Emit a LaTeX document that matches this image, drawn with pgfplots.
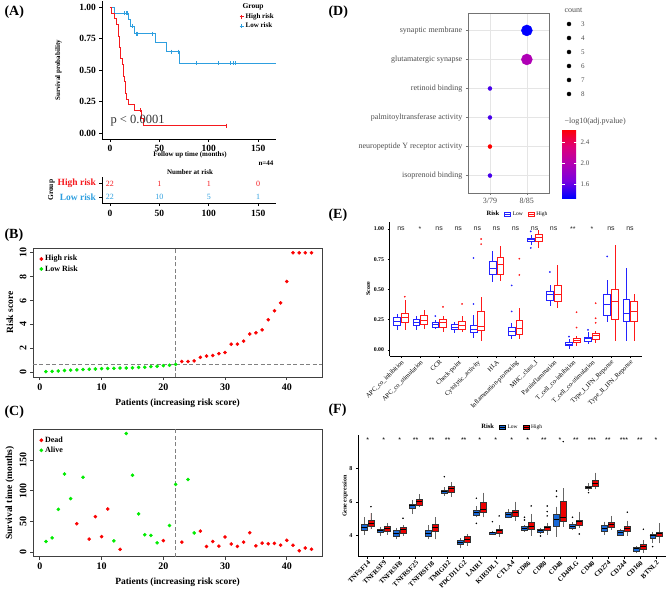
\documentclass[border=0pt]{standalone}
\usepackage{fontspec}
\setmainfont{Liberation Serif}
\setsansfont{Liberation Sans}
\usepackage{pgfplots}
\pgfplotsset{compat=1.18}
\usepgfplotslibrary{statistics}

\definecolor{kmred}{RGB}{245,25,30}
\definecolor{kmblue}{RGB}{46,159,223}
\definecolor{ptgreen}{RGB}{0,235,0}
\definecolor{ptred}{RGB}{250,0,0}
\definecolor{eblue}{RGB}{35,35,255}
\definecolor{ered}{RGB}{255,25,25}
\definecolor{fblue}{RGB}{25,105,215}
\definecolor{fred}{RGB}{235,0,0}
\definecolor{txtgray}{RGB}{77,77,77}
\definecolor{dashgray}{RGB}{128,128,128}

\newcommand{\fs}[1]{\fontsize{#1}{#1}\selectfont}
% one prepared box: style, position, median, q1, q3, lower whisker, upper whisker, outliers
\newcommand{\bx}[8]{\addplot[#1,boxplot prepared={draw position=#2,median=#3,lower quartile=#4,upper quartile=#5,lower whisker=#6,upper whisker=#7}] coordinates {#8};}

\pgfplotsset{
  every axis/.append style={scale only axis, /pgf/number format/assume math mode=true},
  dotlegend/.style={legend image code/.code={\draw[##1] plot coordinates {(2.5pt,0pt)};}},
  boxlegend/.style={legend image code/.code={\draw[##1] (0pt,-2.2pt) rectangle (6pt,2.2pt); \draw[##1,fill=none] (0pt,0pt) -- (6pt,0pt);}},
  boxE/.style={forget plot, line width=0.55pt, fill=white, mark=*, mark size=0.55pt,
    boxplot/draw direction=y,
    boxplot/box extend=0.36, boxplot/whisker extend=0,
    boxplot/every median/.style={line width=1.1pt}},
  eL/.style={boxE, draw=eblue, mark options={draw=eblue, fill=eblue}},
  eH/.style={boxE, draw=ered, mark options={draw=ered, fill=ered}},
  boxF/.style={forget plot, draw=black!80, line width=0.45pt, mark=*, mark size=0.5pt,
    mark options={draw=black, fill=black},
    boxplot/draw direction=y,
    boxplot/box extend=0.36, boxplot/whisker extend=0,
    boxplot/every median/.style={draw=black, line width=1pt},
    boxplot/every whisker/.style={draw=black!60}},
  fL/.style={boxF, fill=fblue},
  fH/.style={boxF, fill=fred},
}

\begin{document}
\begin{tikzpicture}
\useasboundingbox (0,0) rectangle (667pt,595pt);

% panel letters
\node[anchor=west, font=\fs{14}\bfseries] at (1pt,583pt) {(A)};
\node[anchor=west, font=\fs{14}\bfseries] at (1pt,360pt) {(B)};
\node[anchor=west, font=\fs{14}\bfseries] at (1pt,183pt) {(C)};
\node[anchor=west, font=\fs{14}\bfseries] at (325pt,583pt) {(D)};
\node[anchor=west, font=\fs{14}\bfseries] at (325pt,380pt) {(E)};
\node[anchor=west, font=\fs{14}\bfseries] at (325pt,185pt) {(F)};

% ---------------- (A) Kaplan-Meier ----------------
\begin{axis}[at={(102pt,455.4pt)}, anchor=south west, width=174pt, height=138.6pt,
  xmin=-8, xmax=168, ymin=-0.05, ymax=1.05, clip=false,
  axis x line*=bottom, axis y line*=left,
  axis line style={line width=0.7pt,-},
  tick align=outside, major tick length=2.5pt, tick style={black, line width=0.6pt},
  xtick={0,50,100,150}, ytick={0,0.25,0.5,0.75,1},
  tick label style={font=\fs{9.5}\bfseries},
  yticklabel style={/pgf/number format/fixed, /pgf/number format/fixed zerofill, /pgf/number format/precision=2},
  ylabel={Survival probability},
  ylabel style={font=\fs{7}\bfseries, at={(axis description cs:-0.25,0.5)}, anchor=center},
  xlabel={Follow up time (months)},
  xlabel style={font=\fs{7}\bfseries, at={(axis description cs:0.506,-0.111)}, anchor=center},
  legend style={at={(axis description cs:0.79,0.925)}, anchor=north west, draw=none, fill=none,
    font=\fs{7}\bfseries, inner sep=0pt, row sep=-1pt},
  legend cell align=left]
\addlegendimage{dotlegend, kmred, mark=+, mark size=2pt, line width=0.6pt}
\addlegendentry{High risk}
\addlegendimage{dotlegend, kmblue, mark=+, mark size=2pt, line width=0.6pt}
\addlegendentry{Low risk}
\addplot[kmblue, line width=0.8pt, const plot, forget plot] coordinates {
  (0,1) (4.3,0.9545) (18.5,0.9015) (21,0.8485) (25,0.7919) (46,0.7199)
  (57.5,0.6479) (70,0.5554) (168,0.5554)};
\addplot[kmred, line width=0.8pt, const plot, forget plot] coordinates {
  (0,1) (2,0.9545) (4.5,0.9091) (6.5,0.8636) (9,0.7727) (9.5,0.7273) (10,0.6818)
  (11,0.5909) (13,0.5455) (13.5,0.5) (14,0.4545) (14.5,0.4091) (16,0.3182)
  (17,0.2727) (19,0.2273) (24.5,0.1818) (31.5,0.1212) (34,0.0606) (118,0.0606)};
\addplot[kmblue, only marks, mark=|, mark size=2pt, line width=0.5pt, forget plot] coordinates {
  (15,0.9545) (17,0.9545) (18,0.9545) (23,0.8485) (27,0.7919) (28,0.7919) (43,0.7919)
  (62,0.6479) (69.5,0.6479) (87,0.5554) (110,0.5554) (121.6,0.5554) (125,0.5554) (127,0.5554)};
\addplot[kmred, only marks, mark=|, mark size=2pt, line width=0.5pt, forget plot] coordinates {
  (31,0.1818) (118,0.0606)};
\node[anchor=west, inner sep=0pt, font=\fs{12.5}, text=black!80] at (axis cs:0.5,0.098) {p < 0.0001};
\end{axis}
\node[anchor=west, font=\fs{7.5}\bfseries] at (239pt,588pt) {Group};
\node[anchor=east, font=\fs{7}\bfseries] at (277pt,432pt) {n=44};
\node[font=\fs{7}\bfseries] at (190pt,423pt) {Number at risk};

% risk table
\begin{axis}[at={(102pt,391.25pt)}, anchor=south west, width=174pt, height=27pt,
  xmin=-8, xmax=168, ymin=0.5, ymax=2.5, clip=false,
  axis x line*=bottom, axis y line*=left, axis line style={line width=0.7pt,-},
  tick align=outside, major tick length=2.5pt, tick style={black, line width=0.6pt},
  xtick={0,50,100,150}, ytick={1,2},
  yticklabels={\textcolor{kmblue}{Low risk},\textcolor{kmred}{High risk}},
  tick label style={font=\fs{9.5}\bfseries},
  ylabel={Group},
  ylabel style={font=\fs{7.5}\bfseries, at={(axis description cs:-0.29,0.5)}, anchor=center}]
\node[kmred, font=\fs{8}] at (axis cs:0,2) {22};
\node[kmred, font=\fs{8}] at (axis cs:50,2) {1};
\node[kmred, font=\fs{8}] at (axis cs:100,2) {1};
\node[kmred, font=\fs{8}] at (axis cs:150,2) {0};
\node[kmblue, font=\fs{8}] at (axis cs:0,1) {22};
\node[kmblue, font=\fs{8}] at (axis cs:50,1) {10};
\node[kmblue, font=\fs{8}] at (axis cs:100,1) {5};
\node[kmblue, font=\fs{8}] at (axis cs:150,1) {1};
\end{axis}

% ---------------- (B) risk score ----------------
\begin{axis}[at={(33pt,218pt)}, anchor=south west, width=289pt, height=129pt,
  xmin=-1.1, xmax=45.7, ymin=-0.4, ymax=10.4,
  axis line style={black!75, line width=0.8pt},
  xtick={0,10,20,30,40}, ytick={0,2,4,6,8,10}, xtick pos=bottom, ytick pos=left,
  tick align=outside, major tick length=3pt, tick style={black!75, line width=0.7pt},
  tick label style={font=\fs{10}\bfseries},
  yticklabel style={rotate=90, anchor=south},
  ylabel={Risk score},
  ylabel style={font=\fs{9.5}\bfseries, at={(axis description cs:-0.08,0.5)}, anchor=center},
  xlabel={Patients (increasing risk score)},
  xlabel style={font=\fs{9.5}\bfseries, at={(axis description cs:0.5,-0.2)}, anchor=center},
  legend style={at={(axis description cs:0.012,0.975)}, anchor=north west, draw=none, fill=none,
    font=\fs{8}\bfseries, row sep=-1pt},
  legend cell align=left]
\addlegendimage{dotlegend, ptred, mark=*, mark size=1.7pt}
\addlegendentry{High risk}
\addlegendimage{dotlegend, ptgreen, mark=*, mark size=1.7pt}
\addlegendentry{Low Risk}
\addplot[dashgray, dash pattern=on 4pt off 2.5pt, line width=0.9pt, forget plot] coordinates {(22,-0.4) (22,10.4)};
\addplot[dashgray, dash pattern=on 4pt off 2.5pt, line width=0.9pt, forget plot] coordinates {(-1.1,0.69) (45.7,0.69)};
\addplot[only marks, mark=*, mark size=1.6pt, ptgreen, forget plot] coordinates {
  (1,0.05) (2,0.07) (3,0.10) (4,0.15) (5,0.17) (6,0.20) (7,0.22) (8,0.25) (9,0.27)
  (10,0.30) (11,0.32) (12,0.33) (13,0.35) (14,0.36) (15,0.37) (16,0.40) (17,0.42)
  (18,0.47) (19,0.50) (20,0.55) (21,0.58) (22,0.65)};
\addplot[only marks, mark=*, mark size=1.6pt, ptred, forget plot] coordinates {
  (23,0.90) (24,0.90) (25,0.95) (26,1.25) (27,1.35) (28,1.40) (29,1.55) (30,1.65)
  (31,2.35) (32,2.35) (33,2.60) (34,3.20) (35,3.30) (36,3.55) (37,4.40) (38,5.15)
  (39,5.80) (40,7.60) (41,10) (42,10) (43,10) (44,10)};
\end{axis}

% ---------------- (C) survival status ----------------
\begin{axis}[at={(33pt,38.3pt)}, anchor=south west, width=289pt, height=127.3pt,
  xmin=-1.1, xmax=45.7, ymin=-7.7, ymax=199.7,
  axis line style={black!75, line width=0.8pt},
  xtick={0,10,20,30,40}, ytick={0,50,100,150}, xtick pos=bottom, ytick pos=left,
  tick align=outside, major tick length=3pt, tick style={black!75, line width=0.7pt},
  tick label style={font=\fs{10}\bfseries},
  yticklabel style={rotate=90, anchor=south},
  ylabel={Survival time (months)},
  ylabel style={font=\fs{9.5}\bfseries, at={(axis description cs:-0.08,0.5)}, anchor=center},
  xlabel={Patients (increasing risk score)},
  xlabel style={font=\fs{9.5}\bfseries, at={(axis description cs:0.5,-0.2)}, anchor=center},
  legend style={at={(axis description cs:0.012,0.975)}, anchor=north west, draw=none, fill=none,
    font=\fs{8}\bfseries, row sep=-1pt},
  legend cell align=left]
\addlegendimage{dotlegend, ptred, mark=*, mark size=1.7pt}
\addlegendentry{Dead}
\addlegendimage{dotlegend, ptgreen, mark=*, mark size=1.7pt}
\addlegendentry{Alive}
\addplot[dashgray, dash pattern=on 4pt off 2.5pt, line width=0.9pt, forget plot] coordinates {(22,-7.7) (22,199.7)};
\addplot[only marks, mark=*, mark size=1.6pt, ptgreen, forget plot] coordinates {
  (1,17) (2,23) (3,69.5) (4,127) (5,87) (7,121.6) (12,18) (14,193) (15,125) (16,62)
  (17,28) (18,27) (19,15) (21,43) (22,110) (24,118) (25,31)};
\addplot[only marks, mark=*, mark size=1.6pt, ptred, forget plot] coordinates {
  (6,46) (8,21) (9,57.5) (10,25) (11,70) (13,4.3) (20,18.5) (23,16) (26,34) (27,9)
  (28,17) (29,9.5) (30,24.5) (31,13) (32,9) (33,16) (34,31.5) (35,10) (36,14.5)
  (37,13.5) (38,14) (39,11) (40,19) (41,11) (42,2) (43,6.5) (44,4.5)};
\end{axis}

% ---------------- (D) enrichment dot plot ----------------
\begin{axis}[at={(467.8pt,402pt)}, anchor=south west, width=81.2pt, height=180pt,
  xmin=0.4, xmax=2.6, ymin=0.4, ymax=6.6, clip=false,
  xtick={1,2}, xticklabels={3/79,8/85},
  ytick={1,2,3,4,5,6},
  yticklabels={isoprenoid binding, neuropeptide Y receptor activity, palmitoyltransferase activity,
    retinoid binding, glutamatergic synapse, synaptic membrane},
  xtick pos=bottom, ytick pos=left,
  grid=major, grid style={black!10, line width=0.7pt},
  axis line style={black!55, line width=0.5pt},
  tick align=outside, major tick length=2pt, tick style={black!55, line width=0.5pt},
  tick label style={font=\fs{8}, text=txtgray},
  colormap={bluered}{rgb255=(0,0,255) rgb255=(123,0,222) rgb255=(178,0,178) rgb255=(222,0,120) rgb255=(255,0,0)},
  point meta min=1.33, point meta max=2.65,
  colorbar,
  colorbar style={at={(parent axis.north east)}, anchor=north west,
    /pgfplots/colorbar shift/.style={}, xshift=13pt, yshift=-116pt,
    width=15pt, height=69pt, scale only axis,
    ytick={1.6,2.0,2.4}, yticklabel pos=right,
    yticklabel style={font=\fs{7}, text=txtgray, /pgf/number format/fixed,
      /pgf/number format/fixed zerofill, /pgf/number format/precision=1},
    axis line style={draw=none}, tick align=inside, major tick length=3pt,
    tick style={white, line width=0.5pt}}]
\addplot[scatter, only marks, mark=*, point meta=\thisrow{p},
  scatter/use mapped color={draw=mapped color, fill=mapped color},
  visualization depends on={\thisrow{count} \as \cnt},
  scatter/@pre marker code/.append style={/tikz/mark size=0.7*\cnt-0.1}]
  table {
x y count p
2 6 8 1.33
2 5 8 1.97
1 4 3 1.52
1 3 3 1.52
1 2 3 2.65
1 1 3 1.52
};
\end{axis}
\node[anchor=west, font=\fs{8}, text=txtgray] at (561pt,585pt) {count};
\node[anchor=west, font=\fs{8}, text=txtgray] at (561pt,473pt) {−log10(adj.pvalue)};

% size legend
\begin{axis}[at={(559pt,494pt)}, anchor=south west, width=20pt, height=84pt,
  xmin=0, xmax=2, ymin=2.5, ymax=8.5, y dir=reverse, hide axis, clip=false]
\addplot[scatter, only marks, mark=*, point meta=\thisrow{count},
  scatter/use mapped color={draw=black, fill=black},
  visualization depends on={\thisrow{count} \as \cnt},
  scatter/@pre marker code/.append style={/tikz/mark size=0.66*\cnt-0.2},
  nodes near coords,
  every node near coord/.style={anchor=west, xshift=12pt, inner sep=0pt, font=\fs{7}, text=txtgray}]
  table[x=x, y=count] {
x count
1 3
1 4
1 5
1 6
1 7
1 8
};
\end{axis}

% ---------------- (E) immune scores ----------------
\begin{axis}[at={(389.5pt,239pt)}, anchor=south west, width=252pt, height=134.3pt,
  xmin=0.4, xmax=13.6, ymin=-0.05, ymax=1.06, clip=false,
  axis x line*=bottom, axis y line*=left, axis line style={line width=0.6pt,-},
  tick align=outside, major tick length=2pt, tick style={black, line width=0.5pt},
  xtick={1,...,13},
  xticklabels={APC\_co\_inhibition, APC\_co\_stimulation, CCR, Check-point, Cytolytic\_activity,
    HLA, Inflammation-promoting, MHC\_class\_I, Parainflammation, T\_cell\_co-inhibition,
    T\_cell\_co-stimulation, Type\_I\_IFN\_Reponse, Type\_II\_IFN\_Reponse},
  xticklabel style={rotate=45, anchor=north east, font=\fs{6.5}, inner sep=1pt},
  ytick={0,0.25,0.5,0.75,1},
  yticklabel style={font=\fs{5.8}\bfseries, /pgf/number format/fixed,
    /pgf/number format/fixed zerofill, /pgf/number format/precision=2},
  ylabel={Score},
  ylabel style={font=\fs{6}\bfseries, at={(axis description cs:-0.085,0.5)}, anchor=center},
  legend style={at={(axis description cs:0.506,1.057)}, anchor=center, draw=none, fill=none,
    font=\fs{5.5}, inner sep=0pt, /tikz/every even column/.append style={column sep=3pt}},
  legend columns=3]
\addlegendimage{empty legend}
\addlegendentry{\fs{6.5}\bfseries Risk}
\addlegendimage{boxlegend, draw=eblue, fill=white, line width=0.5pt}
\addlegendentry{Low}
\addlegendimage{boxlegend, draw=ered, fill=white, line width=0.5pt}
\addlegendentry{High}
\bx{eL}{0.8}{0.235}{0.20}{0.27}{0.165}{0.30}{}
\bx{eH}{1.2}{0.268}{0.227}{0.30}{0.165}{0.41}{(0,0.44)}
\bx{eL}{1.8}{0.227}{0.20}{0.25}{0.165}{0.28}{}
\bx{eH}{2.2}{0.243}{0.213}{0.285}{0.17}{0.33}{}
\bx{eL}{2.8}{0.207}{0.188}{0.227}{0.174}{0.25}{(0,0.28)}
\bx{eH}{3.2}{0.227}{0.19}{0.257}{0.15}{0.28}{(0,0.356)}
\bx{eL}{3.8}{0.188}{0.171}{0.213}{0.138}{0.235}{}
\bx{eH}{4.2}{0.199}{0.174}{0.24}{0.15}{0.28}{(0,0.38)}
\bx{eL}{4.8}{0.171}{0.146}{0.20}{0.10}{0.29}{(0,0.38) (0,0.76)}
\bx{eH}{5.2}{0.193}{0.16}{0.323}{0.07}{0.44}{(0,0.875) (0,0.917)}
\bx{eL}{5.8}{0.671}{0.622}{0.732}{0.56}{0.815}{}
\bx{eH}{6.2}{0.704}{0.627}{0.768}{0.566}{0.856}{}
\bx{eL}{6.8}{0.152}{0.119}{0.19}{0.09}{0.22}{(0,0.318) (0,0.533)}
\bx{eH}{7.2}{0.174}{0.133}{0.246}{0.09}{0.345}{(0,0.62) (0,0.754)}
\bx{eL}{7.8}{0.91}{0.898}{0.925}{0.87}{0.953}{(0,0.843) (0,0.98)}
\bx{eH}{8.2}{0.93}{0.898}{0.958}{0.843}{0.994}{}
\bx{eL}{8.8}{0.461}{0.41}{0.483}{0.367}{0.533}{(0,0.644)}
\bx{eH}{9.2}{0.456}{0.40}{0.533}{0.345}{0.70}{}
\bx{eL}{9.8}{0.047}{0.036}{0.061}{0.008}{0.088}{(0,0.11)}
\bx{eH}{10.2}{0.08}{0.061}{0.097}{0.036}{0.119}{(0,0.185) (0,0.312)}
\bx{eL}{10.8}{0.091}{0.075}{0.108}{0.05}{0.146}{(0,0.166)}
\bx{eH}{11.2}{0.116}{0.091}{0.135}{0.055}{0.16}{(0,0.224) (0,0.262) (0,0.387)}
\bx{eL}{11.8}{0.378}{0.29}{0.464}{0.229}{0.58}{(0,0.773)}
\bx{eH}{12.2}{0.40}{0.254}{0.505}{0.075}{0.87}{}
\bx{eL}{12.8}{0.304}{0.24}{0.417}{0.077}{0.677}{}
\bx{eH}{13.2}{0.318}{0.24}{0.40}{0.077}{0.461}{}
\node[font=\sffamily\fs{7}, text=black!85] at (axis cs:1,1.0) {ns};
\node[font=\sffamily\fs{7}, text=black!85] at (axis cs:2,1.0) {*};
\node[font=\sffamily\fs{7}, text=black!85] at (axis cs:3,1.0) {ns};
\node[font=\sffamily\fs{7}, text=black!85] at (axis cs:4,1.0) {ns};
\node[font=\sffamily\fs{7}, text=black!85] at (axis cs:5,1.0) {ns};
\node[font=\sffamily\fs{7}, text=black!85] at (axis cs:6,1.0) {ns};
\node[font=\sffamily\fs{7}, text=black!85] at (axis cs:7,1.0) {ns};
\node[font=\sffamily\fs{7}, text=black!85] at (axis cs:8,1.0) {ns};
\node[font=\sffamily\fs{7}, text=black!85] at (axis cs:9,1.0) {ns};
\node[font=\sffamily\fs{7}, text=black!85] at (axis cs:10,1.0) {**};
\node[font=\sffamily\fs{7}, text=black!85] at (axis cs:11,1.0) {*};
\node[font=\sffamily\fs{7}, text=black!85] at (axis cs:12,1.0) {ns};
\node[font=\sffamily\fs{7}, text=black!85] at (axis cs:13,1.0) {ns};
\end{axis}

% ---------------- (F) gene expression ----------------
\begin{axis}[at={(358pt,38.3pt)}, anchor=south west, width=307.6pt, height=121.3pt,
  xmin=0.4, xmax=19.6, ymin=2.75, ymax=9.95, clip=false,
  axis x line*=bottom, axis y line*=left, axis line style={line width=0.6pt,-},
  tick align=outside, major tick length=2pt, tick style={black, line width=0.5pt},
  xtick={1,...,19},
  xticklabels={TNFSF14, TNFRSF9, TNFRSF8, TNFRSF25, TNFRSF18, TMIGD2, PDCD1LG2, LAIR1, KIR3DL1,
    CTLA4, CD86, CD80, CD48, CD40LG, CD40, CD274, CD244, CD160, BTNL2},
  xticklabel style={rotate=45, anchor=north east, font=\fs{6.8}\bfseries, inner sep=1pt},
  ytick={4,6,8},
  yticklabel style={font=\fs{6}\bfseries},
  ylabel={Gene expression},
  ylabel style={font=\fs{6}\bfseries, at={(axis description cs:-0.042,0.5)}, anchor=center},
  legend style={at={(axis description cs:0.5,1.069)}, anchor=center, draw=none, fill=none,
    font=\fs{5.5}, inner sep=0pt, /tikz/every even column/.append style={column sep=3pt}},
  legend columns=3]
\addlegendimage{empty legend}
\addlegendentry{\fs{6.5}\bfseries Risk}
\addlegendimage{boxlegend, draw=black, fill=fblue, line width=0.5pt}
\addlegendentry{Low}
\addlegendimage{boxlegend, draw=black, fill=fred, line width=0.5pt}
\addlegendentry{High}
\bx{fL}{0.79}{4.5}{4.34}{4.67}{4.04}{5.09}{}
\bx{fH}{1.21}{4.73}{4.53}{4.89}{4.38}{5.33}{(0,5.72)}
\bx{fL}{1.79}{4.3}{4.18}{4.4}{3.98}{4.53}{}
\bx{fH}{2.21}{4.42}{4.28}{4.57}{4.04}{4.73}{}
\bx{fL}{2.79}{4.14}{3.98}{4.3}{3.78}{4.48}{}
\bx{fH}{3.21}{4.34}{4.14}{4.48}{3.98}{4.63}{(0,5.03)}
\bx{fL}{3.79}{5.76}{5.6}{5.88}{5.27}{6.12}{}
\bx{fH}{4.21}{6.02}{5.8}{6.18}{5.72}{6.46}{}
\bx{fL}{4.79}{4.14}{3.94}{4.3}{3.78}{4.63}{}
\bx{fH}{5.21}{4.5}{4.24}{4.67}{3.78}{5.09}{}
\bx{fL}{5.79}{6.61}{6.51}{6.71}{6.36}{6.87}{(0,7.5)}
\bx{fH}{6.21}{6.77}{6.59}{6.95}{6.28}{7.17}{}
\bx{fL}{6.79}{3.6}{3.49}{3.7}{3.25}{3.84}{}
\bx{fH}{7.21}{3.8}{3.62}{3.94}{3.39}{4.1}{}
\bx{fL}{7.79}{5.37}{5.23}{5.52}{5.09}{5.76}{(0,6.22) (0,4.73)}
\bx{fH}{8.21}{5.58}{5.41}{5.96}{5.09}{6.55}{}
\bx{fL}{8.79}{4.16}{4.1}{4.22}{4.04}{4.28}{(0,4.83)}
\bx{fH}{9.21}{4.28}{4.14}{4.4}{3.94}{4.63}{(0,5.17)}
\bx{fL}{9.79}{5.27}{5.09}{5.39}{5.03}{5.58}{}
\bx{fH}{10.21}{5.37}{5.17}{5.52}{4.89}{6.02}{}
\bx{fL}{10.79}{4.44}{4.34}{4.53}{4.24}{4.63}{(0,5.09) (0,4.93)}
\bx{fH}{11.21}{4.57}{4.4}{4.77}{3.98}{5.29}{(0,5.76)}
\bx{fL}{11.79}{4.28}{4.2}{4.38}{4.1}{4.48}{(0,3.98)}
\bx{fH}{12.21}{4.46}{4.34}{4.57}{4.04}{4.73}{(0,5.76) (0,5.43) (0,5.17)}
\bx{fL}{12.79}{4.93}{4.53}{5.29}{3.94}{5.72}{(0,6.65) (0,6.32)}
\bx{fH}{13.21}{5.09}{4.83}{6.02}{4.53}{6.81}{(0,9.58)}
\bx{fL}{13.79}{4.55}{4.44}{4.67}{4.34}{4.81}{(0,5.09)}
\bx{fH}{14.21}{4.81}{4.63}{4.93}{4.44}{5.43}{(0,4.1)}
\bx{fL}{14.79}{6.87}{6.79}{6.95}{6.67}{7.11}{(0,6.55)}
\bx{fH}{15.21}{7.11}{6.91}{7.31}{6.75}{7.74}{}
\bx{fL}{15.79}{4.44}{4.24}{4.59}{4.04}{4.83}{}
\bx{fH}{16.21}{4.67}{4.48}{4.81}{4.34}{5.17}{}
\bx{fL}{16.79}{4.2}{4.04}{4.34}{3.98}{4.4}{}
\bx{fH}{17.21}{4.42}{4.24}{4.57}{3.98}{4.89}{(0,5.39)}
\bx{fL}{17.79}{3.21}{3.09}{3.31}{2.99}{3.39}{}
\bx{fH}{18.21}{3.35}{3.19}{3.47}{2.99}{3.74}{(0,4.38)}
\bx{fL}{18.79}{3.98}{3.84}{4.08}{3.54}{4.24}{(0,3.35)}
\bx{fH}{19.21}{4.1}{3.94}{4.18}{3.54}{4.73}{}
\node[font=\sffamily\fs{7}] at (axis cs:1,9.7) {*};
\node[font=\sffamily\fs{7}] at (axis cs:2,9.7) {*};
\node[font=\sffamily\fs{7}] at (axis cs:3,9.7) {*};
\node[font=\sffamily\fs{7}] at (axis cs:4,9.7) {**};
\node[font=\sffamily\fs{7}] at (axis cs:5,9.7) {**};
\node[font=\sffamily\fs{7}] at (axis cs:6,9.7) {**};
\node[font=\sffamily\fs{7}] at (axis cs:7,9.7) {**};
\node[font=\sffamily\fs{7}] at (axis cs:8,9.7) {*};
\node[font=\sffamily\fs{7}] at (axis cs:9,9.7) {*};
\node[font=\sffamily\fs{7}] at (axis cs:10,9.7) {*};
\node[font=\sffamily\fs{7}] at (axis cs:11,9.7) {*};
\node[font=\sffamily\fs{7}] at (axis cs:12,9.7) {**};
\node[font=\sffamily\fs{7}] at (axis cs:13,9.7) {*};
\node[font=\sffamily\fs{7}] at (axis cs:14,9.7) {**};
\node[font=\sffamily\fs{7}] at (axis cs:15,9.7) {***};
\node[font=\sffamily\fs{7}] at (axis cs:16,9.7) {**};
\node[font=\sffamily\fs{7}] at (axis cs:17,9.7) {***};
\node[font=\sffamily\fs{7}] at (axis cs:18,9.7) {**};
\node[font=\sffamily\fs{7}] at (axis cs:19,9.7) {*};
\end{axis}
\end{tikzpicture}
\end{document}
